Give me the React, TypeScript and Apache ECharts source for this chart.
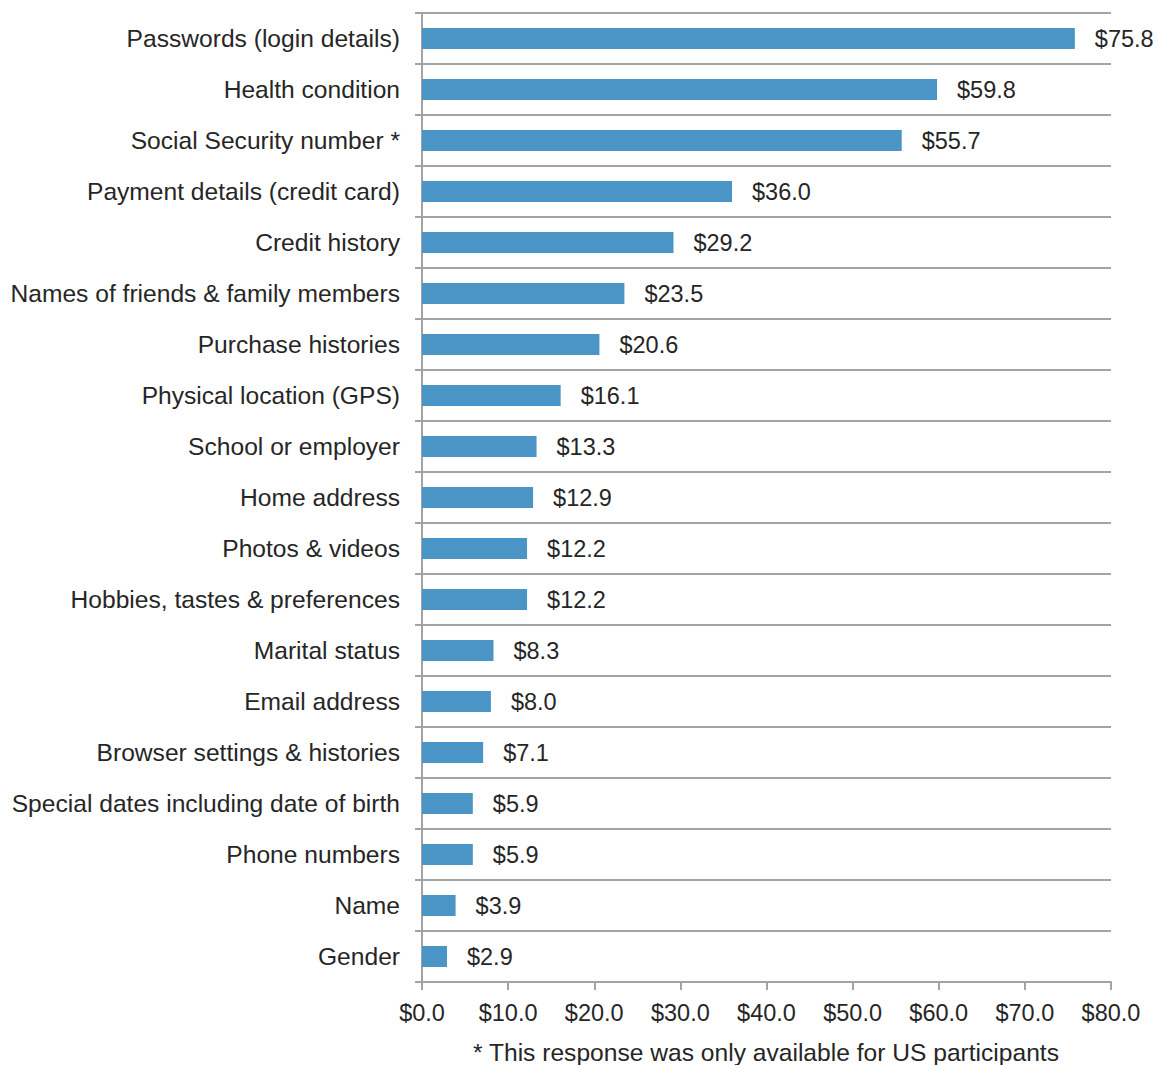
import React, { useEffect, useRef } from "react";
import * as echarts from "echarts";

const categories = [
  "Passwords (login details)",
  "Health condition",
  "Social Security number *",
  "Payment details (credit card)",
  "Credit history",
  "Names of friends & family members",
  "Purchase histories",
  "Physical location (GPS)",
  "School or employer",
  "Home address",
  "Photos & videos",
  "Hobbies, tastes & preferences",
  "Marital status",
  "Email address",
  "Browser settings & histories",
  "Special dates including date of birth",
  "Phone numbers",
  "Name",
  "Gender",
];
const values = [75.8, 59.8, 55.7, 36.0, 29.2, 23.5, 20.6, 16.1, 13.3, 12.9, 12.2, 12.2, 8.3, 8.0, 7.1, 5.9, 5.9, 3.9, 2.9];
const footnote = "* This response was only available for US participants";

const FONT = "'Liberation Sans', Arial, sans-serif";
const TEXT = "#262626";
const LINE = "#a3a3a3";

export default function App() {
  const ref = useRef<HTMLDivElement>(null);
  useEffect(() => {
    if (!ref.current) return;
    const chart = echarts.init(ref.current, undefined, { renderer: "svg" });
    chart.setOption({
      animation: false,
      backgroundColor: "#ffffff",
      grid: { left: 422, right: 47, top: 13, height: 969, containLabel: false },
      xAxis: {
        type: "value",
        min: 0,
        max: 80,
        interval: 10,
        axisLine: { show: true, lineStyle: { color: LINE, width: 2 } },
        axisTick: { show: true, length: 8, lineStyle: { color: LINE, width: 2 } },
        splitLine: { show: false },
        axisLabel: {
          margin: 19,
          color: TEXT,
          fontFamily: FONT,
          fontSize: 23.5,
          formatter: (v: number) => "$" + v.toFixed(1),
        },
      },
      yAxis: {
        type: "category",
        data: categories,
        inverse: true,
        axisLine: { show: true, lineStyle: { color: LINE, width: 2 } },
        axisTick: { show: true, length: 7, lineStyle: { color: LINE, width: 2 } },
        splitLine: { show: true, lineStyle: { color: LINE, width: 2 } },
        axisLabel: {
          margin: 22,
          color: TEXT,
          fontFamily: FONT,
          fontSize: 24.6,
        },
      },
      series: [
        {
          type: "bar",
          data: values,
          barWidth: 21,
          itemStyle: { color: "#4a94c6" },
          label: {
            show: true,
            position: "right",
            distance: 20,
            color: TEXT,
            fontFamily: FONT,
            fontSize: 23.5,
            formatter: (p: any) => "$" + Number(p.value).toFixed(1),
          },
        },
      ],
      graphic: [
        {
          type: "text",
          left: 473,
          top: 1040,
          style: { text: footnote, fill: TEXT, font: `24.6px ${FONT}` },
        },
      ],
    });
    return () => chart.dispose();
  }, []);
  return <div ref={ref} style={{ position: "fixed", left: 0, top: 0, width: 1158, height: 1065 }} />;
}
